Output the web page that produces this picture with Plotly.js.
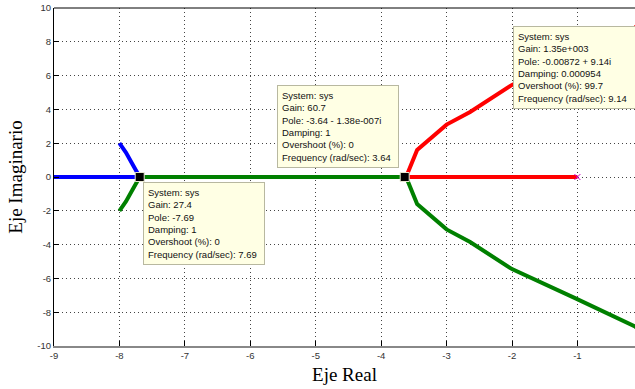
<!DOCTYPE html>
<html>
<head>
<meta charset="utf-8">
<script src="https://cdn.plot.ly/plotly-3.0.1.min.js"></script>
<style>html,body{margin:0;padding:0;background:#fff;}#chart{width:635px;height:389px;}</style>
</head>
<body>
<div id="chart"></div>
<script>
// Root locus branches (real part, imaginary part)
const blueRe = [-8.0, -7.9, -7.80, -7.72, -7.69, -9.5];
const blueIm = [ 2.0,  1.45,  0.75,  0.15,  0.0,   0.0];
const greenRe = [-8.0, -7.9, -7.80, -7.72, -7.69, -3.64, -3.60, -3.45, -3.0, -2.64, -2.0, -1.02, -0.12, -0.00872];
const greenIm = [-2.0, -1.45, -0.75, -0.15,  0.0,   0.0,  -0.18, -1.6,  -3.1, -3.85, -5.45, -7.2, -8.85, -9.14];
const redRe = [-1.0, -3.64, -3.60, -3.45, -3.0, -2.64, -2.0, -1.02, -0.12, -0.00872];
const redIm = [ 0.0,  0.0,   0.18,  1.6,   3.1,  3.85,  5.45, 7.2,   8.85,  9.14];
// open-loop pole shown as x
const poleRe = [-1.0];
const poleIm = [0.0];
// data-tip points
const tipRe = [-7.69, -3.64, -0.00872];
const tipIm = [0.0, -1.38e-7, 9.14];
const tipText = [
  "System: sys<br>Gain: 27.4<br>Pole: -7.69<br>Damping: 1<br>Overshoot (%): 0<br>Frequency (rad/sec): 7.69",
  "System: sys<br>Gain: 60.7<br>Pole: -3.64 - 1.38e-007i<br>Damping: 1<br>Overshoot (%): 0<br>Frequency (rad/sec): 3.64",
  "System: sys<br>Gain: 1.35e+003<br>Pole: -0.00872 + 9.14i<br>Damping: 0.000954<br>Overshoot (%): 99.7<br>Frequency (rad/sec): 9.14"
];
const xTicks = [-9, -8, -7, -6, -5, -4, -3, -2, -1];
const yTicks = [-10, -8, -6, -4, -2, 0, 2, 4, 6, 8, 10];

const lw = 4;
const traces = [
  {x: blueRe, y: blueIm, mode: 'lines', line: {color: '#0000ff', width: lw}, hoverinfo: 'skip'},
  {x: greenRe, y: greenIm, mode: 'lines', line: {color: '#008000', width: lw}, hoverinfo: 'skip'},
  {x: redRe, y: redIm, mode: 'lines', line: {color: '#ff0000', width: lw}, hoverinfo: 'skip'},
  {x: poleRe, y: poleIm, mode: 'markers', marker: {symbol: 'x-thin', size: 6, line: {color: '#d000d0', width: 1}}, hoverinfo: 'skip'},
  {x: tipRe, y: tipIm, mode: 'markers', marker: {symbol: 'square', size: 9, color: '#000', line: {color: '#e8e8d0', width: 1}}, hoverinfo: 'skip'}
];

const boxPos = [[-7.637, -0.30], [-5.591, 5.45], [-1.988, 8.95]];
const annotations = tipText.map((t, i) => ({
  xref: 'x', yref: 'y', x: boxPos[i][0], y: boxPos[i][1],
  xanchor: 'left', yanchor: 'top', showarrow: false, align: 'left',
  text: t, width: i === 2 ? 125 : 112,
  font: {family: 'Arial, Liberation Sans, sans-serif', size: 9.5, color: '#111'},
  bgcolor: '#ffffe4', bordercolor: '#b8b8a0', borderwidth: 1, borderpad: 4
}));

const layout = {
  width: 635, height: 389,
  margin: {l: 54, r: 0, t: 8, b: 43},
  paper_bgcolor: '#fff', plot_bgcolor: '#fff',
  showlegend: false,
  xaxis: {
    range: [-9, -0.12], tickvals: xTicks, ticktext: xTicks.map(String),
    showgrid: true, gridcolor: '#444', griddash: '1px,3px', gridwidth: 1,
    zeroline: false, showline: true, linecolor: '#888', linewidth: 2,
    ticks: 'inside', ticklen: 5, tickcolor: '#000', tickwidth: 1,
    tickfont: {family: 'Arial, Liberation Sans, sans-serif', size: 9.5, color: '#333'},
    title: {text: 'Eje Real', font: {family: 'Liberation Serif, Times New Roman, serif', size: 19, color: '#000'}, standoff: 7}
  },
  yaxis: {
    range: [-10, 10], tickvals: yTicks, ticktext: yTicks.map(String),
    showgrid: true, gridcolor: '#444', griddash: '1px,3px', gridwidth: 1,
    zeroline: false, showline: true, linecolor: '#000', linewidth: 1, mirror: false,
    ticks: 'inside', ticklen: 5, tickcolor: '#000', tickwidth: 1,
    tickfont: {family: 'Arial, Liberation Sans, sans-serif', size: 9.5, color: '#333'},
    title: {text: 'Eje Imaginario', font: {family: 'Liberation Serif, Times New Roman, serif', size: 19, color: '#000'}, standoff: 9}
  },
  shapes: [
    {type: 'line', xref: 'paper', yref: 'paper', x0: 0, x1: 1, y0: 1, y1: 1, line: {color: '#000', width: 1}}
  ],
  annotations: annotations
};

Plotly.newPlot('chart', traces, layout, {staticPlot: true, displayModeBar: false});
</script>
</body>
</html>
